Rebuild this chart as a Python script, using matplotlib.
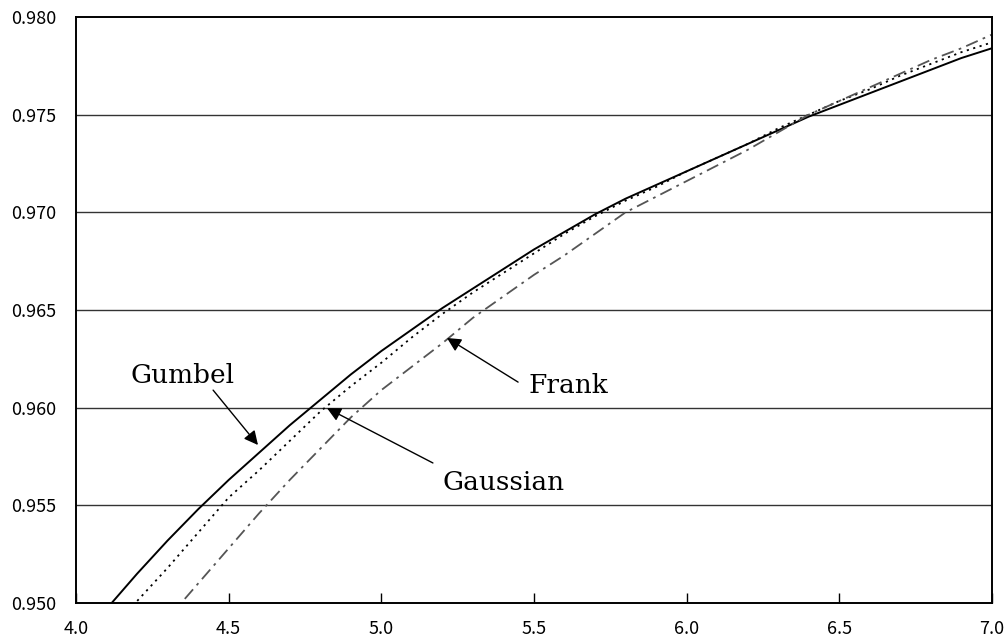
import matplotlib
matplotlib.use("Agg")
import matplotlib.pyplot as plt

# values
x = [4.1, 4.2, 4.3, 4.4, 4.5, 4.6, 4.7, 4.8, 4.9, 5.0,
     5.1, 5.2, 5.3, 5.4, 5.5, 5.6, 5.7, 5.8, 5.9, 6.0,
     6.1, 6.2, 6.3, 6.4, 6.5, 6.6, 6.7, 6.8, 6.9, 7.0]

gumbel = [0.9497, 0.9515, 0.9532, 0.9548, 0.9563, 0.9577, 0.9591, 0.9604, 0.9617, 0.9629,
          0.9640, 0.9651, 0.9661, 0.9671, 0.9681, 0.9690, 0.9699, 0.9707, 0.9714, 0.9721,
          0.9728, 0.9735, 0.9742, 0.9749, 0.9755, 0.9761, 0.9767, 0.9773, 0.9779, 0.9784]

gaussian = [0.9483, 0.9501, 0.9518, 0.9536, 0.9554, 0.9568, 0.9583, 0.9598, 0.9611, 0.9623,
            0.9636, 0.9648, 0.9659, 0.9669, 0.9679, 0.9689, 0.9698, 0.9706, 0.9713, 0.9721,
            0.9728, 0.9735, 0.9743, 0.9750, 0.9757, 0.9763, 0.9770, 0.9776, 0.9782, 0.9787]

frank_x = x[2:]
frank = [0.9492, 0.9510, 0.9528, 0.9546, 0.9563, 0.9579, 0.9595, 0.9609,
         0.9621, 0.9633, 0.9646, 0.9657, 0.9668, 0.9678, 0.9689, 0.9700, 0.9708, 0.9716,
         0.9724, 0.9732, 0.9741, 0.9750, 0.9757, 0.9764, 0.9771, 0.9778, 0.9784, 0.9791]

xticks = [4.0, 4.5, 5.0, 5.5, 6.0, 6.5, 7.0]
yticks = [0.950, 0.955, 0.960, 0.965, 0.970, 0.975, 0.980]

fig = plt.figure(figsize=(10.07, 6.42), dpi=100)
ax = fig.add_axes([0.0755, 0.0607, 0.9095, 0.9128])

for yv in yticks[1:-1]:
    ax.axhline(yv, color='#333333', lw=1.0, zorder=0)

ax.plot(x, gumbel, color='black', lw=1.4)
ax.plot(x, gaussian, color='black', lw=1.3, linestyle=(0, (1.2, 2.5)))
ax.plot(frank_x, frank, color='#555555', lw=1.3, linestyle=(0, (7, 3, 1.5, 3)))

ax.set_xlim(4.0, 7.0)
ax.set_ylim(0.950, 0.980)
ax.set_xticks(xticks)
ax.set_xticklabels([f'{v:.1f}' for v in xticks])
ax.set_yticks(yticks)
ax.set_yticklabels([f'{v:.3f}' for v in yticks])

ax.tick_params(axis='x', direction='in', length=7, width=1, pad=12, labelsize=13)
ax.tick_params(axis='y', length=0, pad=14, labelsize=13)
for lab in ax.get_xticklabels() + ax.get_yticklabels():
    lab.set_family(['Noto Sans CJK JP', 'DejaVu Sans'])
for s in ax.spines.values():
    s.set_linewidth(1.4)
    s.set_color('black')

# arrows, then labels
arrow = dict(arrowstyle='-|>', color='black', lw=1.0, mutation_scale=21,
             shrinkA=0, shrinkB=0)
ax.annotate('', xy=(4.596, 0.95809), xytext=(4.449, 0.96090), arrowprops=arrow)
ax.annotate('', xy=(4.822, 0.95998), xytext=(5.169, 0.95717), arrowprops=arrow)
ax.annotate('', xy=(5.215, 0.96357), xytext=(5.448, 0.96131), arrowprops=arrow)

tfont = dict(family='DejaVu Serif', fontsize=19, ha='center', va='center')
ax.text(4.350, 0.96167, 'Gumbel', **tfont)
ax.text(5.399, 0.95619, 'Gaussian', **tfont)
ax.text(5.612, 0.96116, 'Frank', **tfont)

fig.savefig('out.png', dpi=100)
